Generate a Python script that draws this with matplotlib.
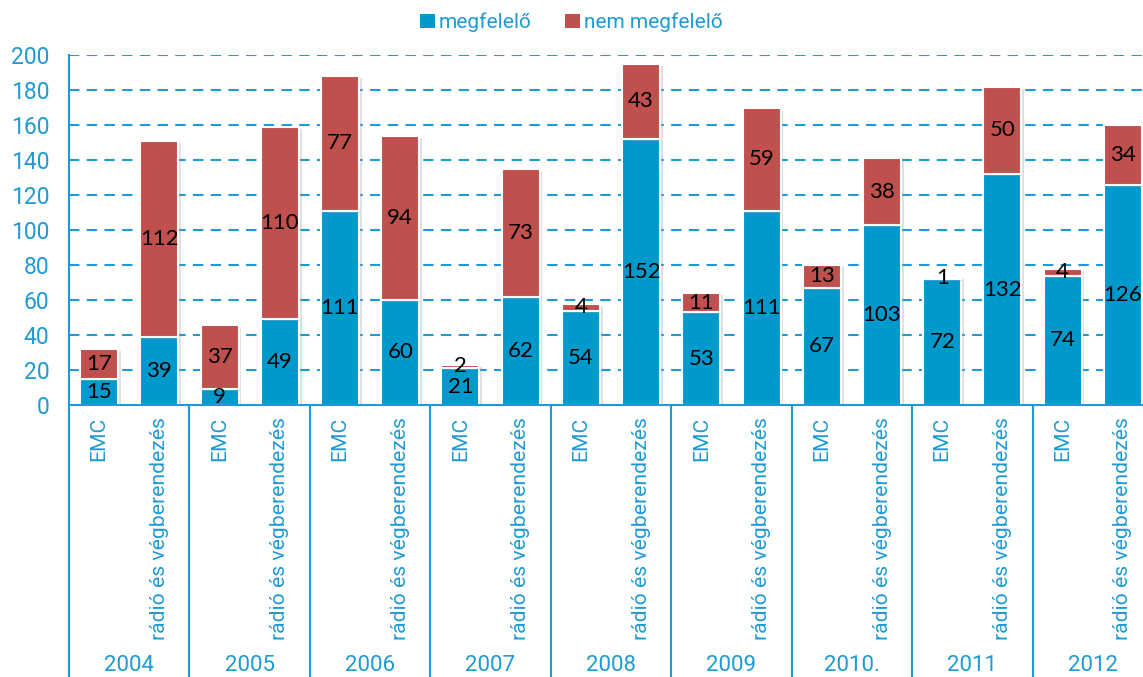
import matplotlib
matplotlib.use("Agg")
import matplotlib.pyplot as plt
import matplotlib.patheffects as pe
from matplotlib.patches import Patch
import numpy as np

years = ["2004", "2005", "2006", "2007", "2008", "2009", "2010.", "2011", "2012"]
categories = ["EMC", "rádió és végberendezés"]

# EMC bars
ok_emc = [15, 9, 111, 21, 54, 53, 67, 72, 74]
bad_emc = [17, 37, 77, 2, 4, 11, 13, 1, 4]
# radio and terminal equipment bars
ok_radio = [39, 49, 60, 62, 152, 111, 103, 132, 126]
bad_radio = [112, 110, 94, 73, 43, 59, 38, 50, 34]

series_names = ["megfelelő", "nem megfelelő"]

BLUE = "#0099CC"
RED = "#C0504D"
TXT = "#1E9AD4"

# interleave the two categories per year
ok = []
bad = []
for a, b, c, d in zip(ok_emc, ok_radio, bad_emc, bad_radio):
    ok += [a, b]
    bad += [c, d]
ok = np.array(ok)
bad = np.array(bad)
x = np.arange(len(ok))

fig = plt.figure(figsize=(11.43, 6.77), dpi=100)
ax = fig.add_axes([69 / 1143, 272 / 677, 1084 / 1143, 350 / 677])

shadow = [pe.SimplePatchShadow(offset=(2, -1.5), shadow_rgbFace="#9a9a9a", alpha=0.3), pe.Normal()]

# grid behind bars
for v in range(20, 201, 20):
    ax.axhline(v, color=TXT, lw=1.5, ls=(0, (5, 3.5)), zorder=0)

b1 = ax.bar(x, ok, width=0.63, color=BLUE, edgecolor="white", linewidth=1.5, zorder=2)
b2 = ax.bar(x, bad, bottom=ok, width=0.63, color=RED, edgecolor="white", linewidth=1.5, zorder=2)
for p in list(b1) + list(b2):
    p.set_path_effects(shadow)

lab_font = dict(family="Lato", fontsize=16, color="black", ha="center", va="center", zorder=4)
for i in range(len(x)):
    ax.text(x[i], ok[i] / 2, str(ok[i]), **lab_font)
    ax.text(x[i], ok[i] + bad[i] / 2, str(bad[i]), **lab_font)

ax.set_xlim(-0.5, len(x) - 0.5)
ax.set_ylim(0, 200)
ax.set_yticks(range(0, 201, 20))
ax.tick_params(axis="y", length=0, pad=14, labelsize=16.5, labelcolor=TXT)
for t in ax.get_yticklabels():
    t.set_family("Roboto")
ax.set_xticks([])

for s in ["top", "right"]:
    ax.spines[s].set_visible(False)
ax.spines["left"].set_color(TXT)
ax.spines["left"].set_linewidth(1.5)
ax.spines["bottom"].set_color(TXT)
ax.spines["bottom"].set_linewidth(1.5)

# two-level category axis
tr = ax.get_xaxis_transform()
for k in range(len(years) + 1):
    ax.plot([-0.5 + 2 * k] * 2, [0, -0.78], transform=tr, color=TXT, lw=1.5,
            clip_on=False)
for i in range(len(x)):
    ax.text(x[i], -0.034, categories[i % 2], transform=tr, rotation=90,
            ha="center", va="top", fontsize=15.2, color=TXT, family="Roboto")
for k, yr in enumerate(years):
    ax.text(2 * k + 0.5, -0.743, yr, transform=tr, ha="center", va="center",
            fontsize=16, color=TXT, family="Roboto")

handles = [Patch(facecolor=BLUE, edgecolor="none"), Patch(facecolor=RED, edgecolor="none")]
leg = fig.legend(handles, series_names, loc="center", bbox_to_anchor=(0.5, 0.967), ncol=2,
                 frameon=False, handlelength=0.7, handleheight=0.7, handletextpad=0.2,
                 columnspacing=1.6, prop={"family": "Roboto", "size": 15})
for t in leg.get_texts():
    t.set_color(TXT)

fig.savefig("out.png", dpi=100)
